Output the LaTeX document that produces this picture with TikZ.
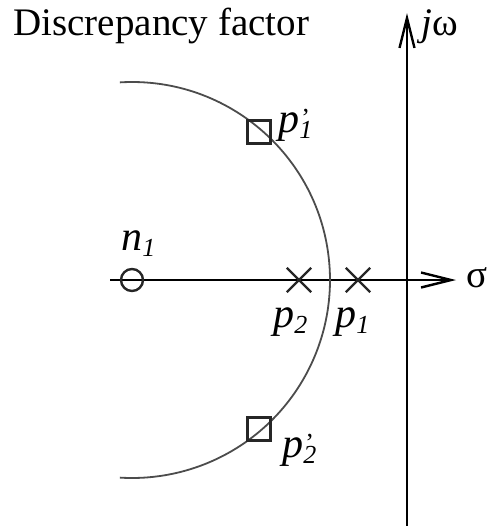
\documentclass[tikz,border=0pt]{standalone}
\usepackage{fontspec}
\setmainfont{Liberation Serif}
\usetikzlibrary{arrows.meta,shapes.misc}
\newcommand{\lsub}[1]{\raisebox{-3pt}{\fontsize{13}{15}\selectfont\itshape #1}}
\newcommand{\lprime}[1]{\makebox[0pt][l]{\hspace{1pt}\raisebox{3pt}{\fontsize{13}{15}\selectfont '}}\lsub{#1}}

\begin{document}
\begin{tikzpicture}[x=0.5pt,y=-0.5pt]
  \tikzset{
    every node/.style={font=\fontsize{19.5}{23}\selectfont},
    axis/.style={line width=1.4pt,-{Straight Barb[length=15pt,width=7.5pt,line width=1.2pt]}},
    locus/.style={line width=0.9pt,black!70},
    pole/.style={cross out,draw,line width=1.2pt,black!85,minimum size=11pt,inner sep=0pt},
    zero/.style={circle,draw,line width=1.2pt,black!85,minimum size=11pt,inner sep=0pt},
    newpole/.style={rectangle,draw,line width=1.2pt,black!85,minimum size=11.5pt,inner sep=0pt},
    lbl/.style={anchor=base west,inner sep=0pt,font=\fontsize{21}{24}\selectfont}
  }
  \useasboundingbox (0,0) rectangle (490,526);

  % axes
  \coordinate (sigmaL) at (110,280);
  \coordinate (sigmaR) at (456,280);
  \coordinate (jwB) at (407,530);
  \coordinate (jwT) at (407,13);
  \draw[axis] (sigmaL) -- (sigmaR);
  \draw[axis] (jwB) -- (jwT);
  \node[anchor=base west,inner sep=0pt] (sigma) at (466,287) {σ};
  \node[anchor=base west,inner sep=0pt] (jw) at (421,35) {\textit{j}ω};

  \node[anchor=base west,inner sep=0pt] (title) at (13,35) {Discrepancy factor};

  % locus of the shifted poles
  \coordinate (ctr) at (132,280);
  \draw[locus] (ctr) ++(-93.5:198) arc[start angle=-93.5,end angle=93.5,radius=198];

  % zero and poles
  \node[zero] (n1) at (132,280) {};
  \node[pole] (p2) at (299,280) {};
  \node[pole] (p1) at (358,280) {};
  \node[newpole] (p1s) at (259,132) {};
  \node[newpole] (p2s) at (259,429) {};

  \node[lbl] (ln1) at (121,250) {\textit{n}\lsub{1}};
  \node[lbl] (lp2) at (273,327) {\textit{p}\lsub{2}};
  \node[lbl] (lp1) at (335,327) {\textit{p}\lsub{1}};
  \node[lbl] (lp1s) at (278,132) {\textit{p}\lprime{1}};
  \node[lbl] (lp2s) at (282,457) {\textit{p}\lprime{2}};
\end{tikzpicture}
\end{document}
